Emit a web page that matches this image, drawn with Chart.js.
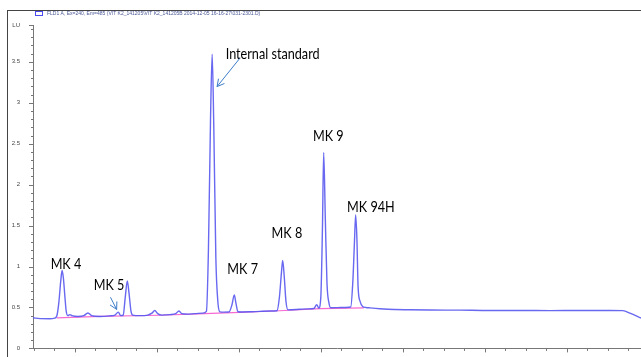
<!DOCTYPE html>
<html>
<head>
<meta charset="utf-8">
<script src="https://cdn.jsdelivr.net/npm/chart.js@4.4.0/dist/chart.umd.min.js"></script>
<style>
  html, body { margin: 0; padding: 0; background: #ffffff; }
  #wrap { position: relative; width: 641px; height: 357px; overflow: hidden; }
  #chromChart { display: block; }
  /* Rahmen oben/links wie im Original-Export */
  #frame { position: absolute; left: 7px; top: 10px; right: -2px; bottom: -2px;
           border-left: 1px solid #444; border-top: 1px solid #444; pointer-events: none; }
</style>
</head>
<body>
<div id="wrap">
  <canvas id="chromChart" width="641" height="357"></canvas>
  <div id="frame"></div>
</div>
<script>
// Kopfzeile (Detektor-Signal)
const signalName = 'FLD1 A, Ex=240, Em=485 (VIT K2_141205\\VIT K2_141205B 2014-12-05 16-16-27\\031-2301.D)';

// Chromatogramm: Retentionszeit (min) und Signal (LU)
const retentionTimes = [
  0.98, 1.15, 1.39, 1.51, 1.56, 1.61, 1.66, 1.69, 1.72, 1.76, 1.79, 1.83, 1.88, 1.93,
  2.07, 2.22, 2.32, 2.41, 2.61, 2.85, 2.98, 3.06, 3.12, 3.18, 3.23, 3.28, 3.32, 3.37,
  3.41, 3.59, 3.78, 3.88, 3.95, 4.02, 4.12, 4.32, 4.46, 4.54, 4.61, 4.76, 4.93, 5.12,
  5.21, 5.26, 5.31, 5.35, 5.39, 5.44, 5.49, 5.54, 5.63, 5.76, 5.83, 5.89, 5.93, 5.98,
  6.07, 6.27, 6.51, 6.76, 6.93, 6.99, 7.04, 7.07, 7.11, 7.15, 7.20, 7.29, 7.49, 7.68,
  7.83, 7.90, 7.95, 8.00, 8.04, 8.07, 8.11, 8.15, 8.20, 8.24, 8.41, 8.61, 8.73, 8.78,
  8.82, 8.85, 8.88, 8.91, 8.96, 9.02, 9.10, 9.20, 9.44, 9.80, 10.17, 10.66, 11.39,
  12.12, 12.85, 13.59, 14.32, 15.05, 15.37, 15.54, 15.81
];
const signal = [
  0.374, 0.364, 0.362, 0.370, 0.395, 0.560, 0.840, 0.953, 0.865, 0.620, 0.455, 0.400, 0.413, 0.400,
  0.390, 0.400, 0.433, 0.400, 0.390, 0.397, 0.407, 0.443, 0.400, 0.407, 0.624, 0.825, 0.684, 0.455,
  0.407, 0.400, 0.407, 0.430, 0.463, 0.425, 0.407, 0.413, 0.425, 0.457, 0.425, 0.419, 0.425, 0.431,
  0.452, 1.227, 2.796, 3.593, 2.700, 1.107, 0.564, 0.447, 0.443, 0.445, 0.527, 0.654, 0.552, 0.447,
  0.445, 0.447, 0.452, 0.456, 0.460, 0.624, 0.926, 1.074, 0.865, 0.576, 0.470, 0.472, 0.478, 0.483,
  0.487, 0.535, 0.492, 0.624, 1.469, 2.394, 1.589, 0.805, 0.552, 0.497, 0.498, 0.500, 0.505, 0.805,
  1.288, 1.629, 1.348, 0.745, 0.572, 0.512, 0.500, 0.495, 0.485, 0.475, 0.472, 0.469, 0.467,
  0.463, 0.463, 0.461, 0.463, 0.463, 0.461, 0.431, 0.370
];

// Integrations-Basislinie (pink)
const baselineTimes = [1.56, 2.61, 4.07, 5.17, 6.02, 7.00, 7.98, 9.05];
const baselineSignal = [0.374, 0.390, 0.405, 0.425, 0.440, 0.460, 0.485, 0.495];

// Y-Achse
const yTickValues = [0, 0.5, 1, 1.5, 2, 2.5, 3, 3.5];
const yTickLabels = ['0', '0.5', '1', '1.5', '2', '2.5', '3', '3.5'];
const yUnitLabel = 'LU';

// Peak-Beschriftungen
const peakNames = ['MK 4', 'MK 5', 'Internal standard', 'MK 7', 'MK 8', 'MK 9', 'MK 94H'];
// Textanker (Retentionszeit, LU) – links, Grundlinie der Schrift
const labelAnchors = [
  [1.41, 0.965], [2.46, 0.712], [5.68, 3.530], [5.72, 0.914], [6.80, 1.348], [7.81, 2.534], [8.64, 1.670]
];
// Pfeile: [von, nach]
const arrows = [
  [[6.02, 3.541], [5.47, 3.198]],
  [[2.87, 0.624], [3.02, 0.476]]
];

document.addEventListener('DOMContentLoaded', function() {

  //plugin block: Kopfzeile, Nebenteilstriche, Beschriftungen, Pfeile
  const chromDecor = {
    id: 'chromDecor',
    afterDraw(chart) {
      const ctx = chart.ctx;
      const x = chart.scales.x;
      const y = chart.scales.y;
      ctx.save();

      // Teilstriche
      ctx.strokeStyle = '#777777';
      ctx.lineWidth = 1;
      ctx.beginPath();
      for (let i = 0; ; i++) {
        const v = 1 + i * 0.5;
        if (v > x.max) break;
        const px = Math.round(x.getPixelForValue(v)) + 0.5;
        const major = (i % 4) === 2;
        ctx.moveTo(px, y.bottom);
        ctx.lineTo(px, y.bottom + (major ? 4 : 2.5));
      }
      for (let i = 0; i <= 39; i++) {
        const py = Math.round(y.getPixelForValue(i / 10)) + 0.5;
        ctx.moveTo(x.left, py);
        ctx.lineTo(x.left - (i % 5 === 0 ? 4 : 2), py);
      }
      ctx.moveTo(x.left, y.top + 0.5);
      ctx.lineTo(x.left - 4, y.top + 0.5);
      ctx.stroke();

      // Kopfzeile mit Legendenkasten
      ctx.strokeStyle = '#4b4bf0';
      ctx.strokeRect(35.5, 11.5, 7, 4);
      ctx.fillStyle = '#4a5796';
      ctx.font = '5px "Liberation Sans"';
      ctx.textBaseline = 'middle';
      ctx.fillText(signalName, 47, 14);

      // Peak-Namen
      ctx.fillStyle = '#000000';
      ctx.font = '16px Lato';
      ctx.textBaseline = 'alphabetic';
      peakNames.forEach(function(name, i) {
        const px = x.getPixelForValue(labelAnchors[i][0]);
        const py = y.getPixelForValue(labelAnchors[i][1]);
        ctx.save();
        ctx.translate(px, py);
        ctx.scale(0.79, 1);
        ctx.fillText(name, 0, 0);
        ctx.restore();
      });

      // Pfeile
      ctx.strokeStyle = '#3d7cc9';
      ctx.lineWidth = 1;
      arrows.forEach(function(a) {
        const x0 = x.getPixelForValue(a[0][0]), y0 = y.getPixelForValue(a[0][1]);
        const x1 = x.getPixelForValue(a[1][0]), y1 = y.getPixelForValue(a[1][1]);
        const ang = Math.atan2(y0 - y1, x0 - x1);
        ctx.beginPath();
        ctx.moveTo(x0, y0);
        ctx.lineTo(x1, y1);
        ctx.moveTo(x1 + 8 * Math.cos(ang + 0.5), y1 + 8 * Math.sin(ang + 0.5));
        ctx.lineTo(x1, y1);
        ctx.lineTo(x1 + 8 * Math.cos(ang - 0.5), y1 + 8 * Math.sin(ang - 0.5));
        ctx.stroke();
      });

      ctx.restore();
    }
  };

  const traceData = retentionTimes.map((t, i) => ({x: t, y: signal[i]}));
  const baseData = baselineTimes.map((t, i) => ({x: t, y: baselineSignal[i]}));

  const options = {
    responsive: false,
    animation: false,
    devicePixelRatio: 1,
    layout: {
      padding: {top: 25, right: 0, bottom: 0, left: 0}
    },
    plugins: {
      legend: {display: false},
      tooltip: {enabled: false}
    },
    scales: {
      x: {
        type: 'linear',
        min: 0.98,
        max: 15.81,
        ticks: {display: false},
        grid: {display: false},
        border: {display: true, color: '#777777', width: 1},
        afterFit(scale) { scale.height = 5; }
      },
      y: {
        type: 'linear',
        min: 0,
        max: 3.95,
        afterFit(scale) { scale.width = 33; },
        afterBuildTicks(scale) {
          scale.ticks = yTickValues.map(v => ({value: v})).concat([{value: scale.max}]);
        },
        ticks: {
          autoSkip: false,
          padding: 5,
          color: '#444444',
          font: {size: 6, family: 'Liberation Sans'},
          callback: function(value, index) {
            return index < yTickLabels.length ? yTickLabels[index] : yUnitLabel;
          }
        },
        grid: {display: false},
        border: {display: true, color: '#777777', width: 1}
      }
    }
  };

  // Erstellung des Diagramms
  const ctx = document.getElementById('chromChart').getContext('2d');
  new Chart(ctx, {
    type: 'line',
    data: {
      datasets: [{
        label: signalName,
        data: traceData,
        borderColor: 'rgba(88, 88, 240, 0.9)',
        borderWidth: 1.4,
        pointRadius: 0,
        cubicInterpolationMode: 'monotone',
        fill: false,
        order: 1
      }, {
        label: 'Baseline',
        data: baseData,
        borderColor: 'rgba(245, 90, 205, 0.9)',
        borderWidth: 1.2,
        pointRadius: 0,
        fill: false,
        order: 2
      }]
    },
    options: options,
    plugins: [chromDecor]
  });
});
</script>
</body>
</html>
